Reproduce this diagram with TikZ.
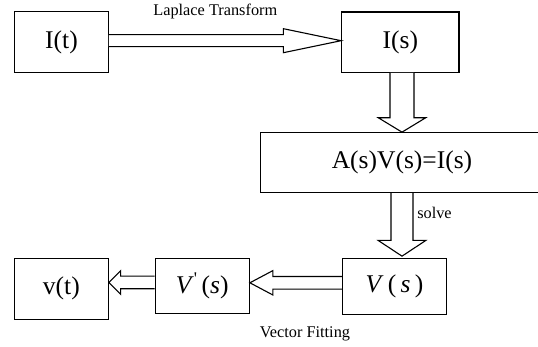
\documentclass[tikz,border=0pt]{standalone}
\usepackage{fontspec}
\setmainfont{Liberation Serif}
\usetikzlibrary{calc}

\begin{document}
\begin{tikzpicture}[x=1pt,y=-1pt,line join=miter,
    box/.style={draw,line width=1.1pt,inner sep=0pt,font=\fontsize{25.5}{30}\selectfont},
    lbl/.style={inner sep=0pt,font=\fontsize{16.3}{19}\selectfont},
    hollow/.style={draw,line width=1.1pt,fill=white}]
  % canvas
  \useasboundingbox (0,0) rectangle (538,347);
  \clip (0,0) rectangle (538,347);

  % boxes
  \node[box,minimum width=93.6pt,minimum height=60.6pt] (it) at (61.5,42) {I(t)};
  \node[box,minimum width=117.3pt,minimum height=60.3pt] (is) at (400.3,42.2) {I(s)};
  \node[box,minimum width=282.6pt,minimum height=60pt] (ab) at (402,162.7) {A(s)V(s)=I(s)};
  \node[box,minimum width=104.4pt,minimum height=56pt] (vs) at (394.5,286.3) {\textit{V}\,(\,\textit{s}\,)};
  \node[box,minimum width=94.3pt,minimum height=55pt] (vp) at (202.2,285.8) {\textit{V}\textsuperscript{\textquotesingle}\,(\textit{s})};
  \node[box,minimum width=93.8pt,minimum height=61pt] (vt) at (61.4,288.8) {v(t)};

  % block arrows
  \coordinate (t1) at ($(is.west)+(0,-1.5)$);
  \draw[hollow] ($(it.east |- t1)+(0,-6)$) -- ($(t1)+(-57.7,-6)$) -- ($(t1)+(-57.7,-12)$) -- (t1)
    -- ($(t1)+(-57.7,12)$) -- ($(t1)+(-57.7,6)$) -- ($(it.east |- t1)+(0,6)$);

  \draw[hollow] ($(is.south -| ab.north)+(-12,0)$) -- ($(ab.north)+(-12,-14.4)$) -- ($(ab.north)+(-23.7,-14.4)$) -- (ab.north)
    -- ($(ab.north)+(23.7,-14.4)$) -- ($(ab.north)+(12,-14.4)$) -- ($(is.south -| ab.north)+(12,0)$);

  \coordinate (t3) at ($(ab.south |- vs.north)+(0,-1.6)$);
  \draw[hollow] ($(ab.south)+(-11,0)$) -- ($(t3)+(-11,-15.7)$) -- ($(t3)+(-23.8,-15.7)$) -- (t3)
    -- ($(t3)+(23.8,-15.7)$) -- ($(t3)+(11,-15.7)$) -- ($(ab.south)+(11,0)$);

  \coordinate (t4) at ($(vp.east)+(0,-3)$);
  \draw[hollow] ($(vs.west |- t4)+(0,-6.3)$) -- ($(t4)+(23,-6.3)$) -- ($(t4)+(23,-12.2)$) -- (t4)
    -- ($(t4)+(23,12.2)$) -- ($(t4)+(23,6.3)$) -- ($(vs.west |- t4)+(0,6.3)$);

  \coordinate (t5) at ($(vt.east)+(0,-6.3)$);
  \draw[hollow] ($(vp.west |- t5)+(0,-6.3)$) -- ($(t5)+(11.7,-6.3)$) -- ($(t5)+(11.7,-11.7)$) -- (t5)
    -- ($(t5)+(11.7,11.7)$) -- ($(t5)+(11.7,6.3)$) -- ($(vp.west |- t5)+(0,6.3)$);

  % labels
  \node[lbl] (lt) at (215.3,11.7) {Laplace Transform};
  \node[lbl] (sv) at (434.5,213) {solve};
  \node[lbl] (vf) at (305,334.3) {Vector Fitting};
\end{tikzpicture}
\end{document}
